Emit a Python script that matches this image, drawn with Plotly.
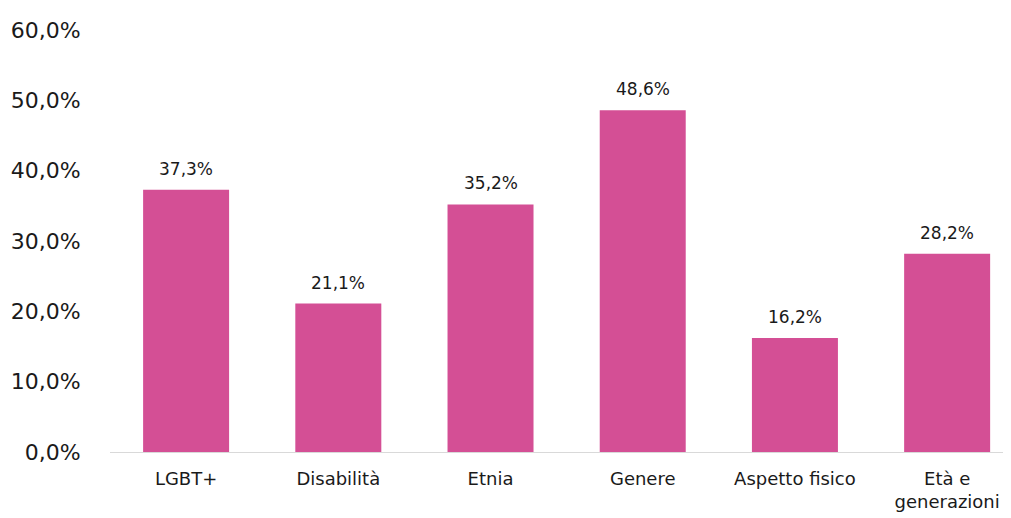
import plotly.graph_objects as go

categories = ["LGBT+", "Disabilità", "Etnia", "Genere", "Aspetto fisico", "Età e<br>generazioni"]
values = [37.3, 21.1, 35.2, 48.6, 16.2, 28.2]
value_labels = ["37,3%", "21,1%", "35,2%", "48,6%", "16,2%", "28,2%"]
y_ticks = [0, 10, 20, 30, 40, 50, 60]

bar_color = "#D44F95"
font_family = "DejaVu Sans, Liberation Sans, sans-serif"

fig = go.Figure()
fig.add_trace(go.Bar(
    x=list(range(len(categories))),
    y=values,
    marker=dict(color=bar_color, line=dict(width=0)),
    width=0.565,
    hoverinfo="skip",
))

for i, (v, lab) in enumerate(zip(values, value_labels)):
    fig.add_annotation(
        x=i, y=v, text=lab, showarrow=False,
        yanchor="bottom", yshift=9,
        font=dict(family=font_family, size=17, color="#1a1a1a"),
    )

fig.update_layout(
    width=995, height=510,
    margin=dict(l=102, r=0, t=22, b=66, autoexpand=False),
    paper_bgcolor="white", plot_bgcolor="white",
    separators=",.",
    showlegend=False,
    xaxis=dict(
        tickmode="array",
        tickvals=list(range(len(categories))),
        ticktext=categories,
        range=[-0.5, 5.367],
        automargin=False,
        showline=True, linecolor="#d9d9d9", linewidth=1,
        showgrid=False, zeroline=False,
        ticks="outside", ticklen=10, tickcolor="rgba(0,0,0,0)",
        tickfont=dict(family=font_family, size=18, color="#1a1a1a"),
    ),
    yaxis=dict(
        range=[0, 60],
        automargin=False,
        tickmode="array",
        tickvals=y_ticks,
        ticktext=[f"{t},0%" for t in y_ticks],
        showgrid=False, zeroline=False, showline=False,
        ticks="outside", ticklen=24, tickcolor="rgba(0,0,0,0)",
        tickfont=dict(family=font_family, size=22, color="#1a1a1a"),
    ),
)

fig.write_html("out.html")
